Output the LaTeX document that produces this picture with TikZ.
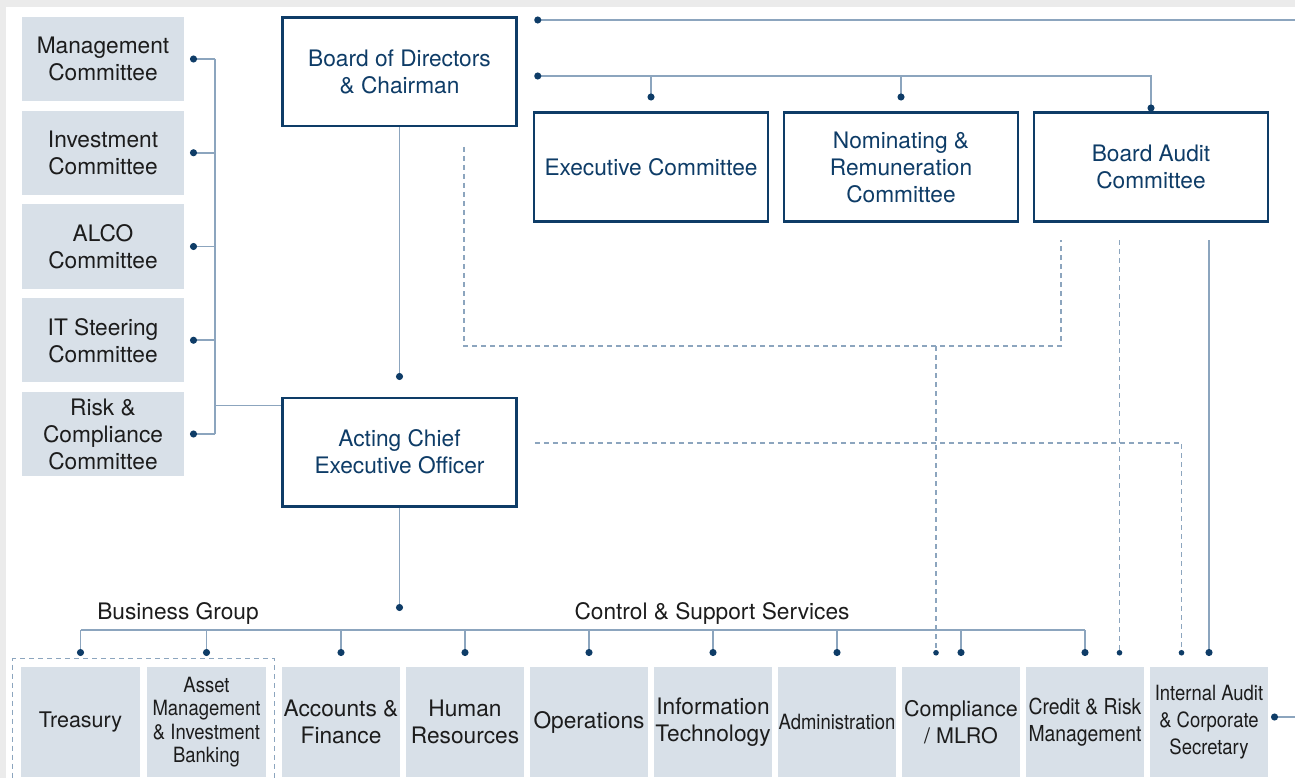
\documentclass[tikz,border=0pt]{standalone}
\usepackage{fontspec}
\setmainfont{TeX Gyre Heros}
\newfontfamily\narrowsf[FakeStretch=0.88]{TeX Gyre Heros}
\usetikzlibrary{arrows.meta,positioning,fit}

\definecolor{navy}{HTML}{0E3C67}
\definecolor{wireblue}{HTML}{8CA5BE}
\definecolor{panel}{HTML}{D8E0E8}
\definecolor{pagegray}{HTML}{EBEBEB}
\definecolor{ink}{HTML}{1C1C1C}

\newcommand{\bigtxt}{\fontsize{22.7}{27}\selectfont}
\newcommand{\midtxt}{\fontsize{21.5}{27}\selectfont}
\newcommand{\slimtxt}{\narrowsf\fontsize{21}{27}\selectfont}

\tikzset{
  knob/.tip={Circle[length=7pt,color=navy]},
  smallknob/.tip={Circle[length=5.5pt,color=navy]},
  boardbox/.style={draw=navy, line width=2.5pt, fill=white, text=navy, align=center,
    minimum width=234pt, minimum height=108.5pt, inner sep=0pt, font=\bigtxt},
  cmte/.style={fill=panel, text=ink, align=center, minimum width=162pt,
    minimum height=84pt, inner sep=0pt, outer sep=0pt, font=\bigtxt},
  unit/.style={fill=panel, text=ink, align=center, minimum width=118pt,
    minimum height=110pt, inner sep=0pt, outer sep=0pt, font=\bigtxt},
  wire/.style={draw=wireblue, line width=1.6pt},
  link/.style={wire, -knob, shorten >=11pt},
  dashwire/.style={draw=wireblue, line width=1.3pt, dash pattern=on 5pt off 4pt},
  dashlink/.style={dashwire, -smallknob, shorten >=11.5pt},
}

\begin{document}
\begin{tikzpicture}[x=1pt,y=-1pt]
  % page and panel
  \useasboundingbox (0,0) rectangle (1295,778);
  \fill[pagegray] (0,0) rectangle (1295,778);
  \fill[white] (6,7) rectangle (1295,778);

  % management committees on the left
  \node[cmte] (mgmt) at (103,59) {Management\\Committee};
  \node[cmte, below=9.75pt of mgmt] (invest) {Investment\\Committee};
  \node[cmte, below=9.75pt of invest] (alco) {ALCO\\Committee};
  \node[cmte, below=9.75pt of alco] (itsc) {IT Steering\\Committee};
  \node[cmte, below=9.75pt of itsc] (risk) {Risk \&\\Compliance\\Committee};

  % board, CEO and board committees
  \node[boardbox] (board) at (399.5,72) {Board of Directors\\\& Chairman};
  \node[boardbox] (ceo) at (399.5,452) {Acting Chief\\Executive Officer};
  \node[boardbox] (exec) at (651,167) {Executive Committee};
  \node[boardbox, right=13.5pt of exec] (nomrem) {Nominating \&\\Remuneration\\Committee};
  \node[boardbox, right=13.5pt of nomrem] (bac) {Board Audit\\Committee};

  % departments along the bottom
  \node[unit, minimum width=119pt, font=\midtxt] (treasury) at (80.5,722) {Treasury};
  \node[unit, minimum width=119pt, right=7pt of treasury,
    font={\narrowsf\fontsize{21}{23.5}\selectfont}] (asset)
    {Asset\\Management\\\& Investment\\Banking};
  \node[unit] (accounts) at (341,722) {Accounts \&\\Finance};
  \node[unit, right=6pt of accounts] (hr) {Human\\Resources};
  \node[unit, right=6pt of hr] (ops) {Operations};
  \node[unit, right=6pt of ops] (it) {Information\\Technology};
  \node[unit, right=6pt of it, font=\slimtxt] (admin) {Administration};
  \node[unit, right=6pt of admin, font=\midtxt] (compliance) {Compliance\\/ MLRO};
  \node[unit, right=6pt of compliance, font={\narrowsf\fontsize{22}{27}\selectfont}] (credit)
    {Credit \& Risk\\Management};
  \node[unit, right=6pt of credit, font=\slimtxt] (ia) {Internal Audit\\\& Corporate\\Secretary};
  \node[dashwire, fit=(treasury)(asset), inner sep=8.5pt] (bizgroup) {};

  \node[text=ink, font=\bigtxt] (bizlbl) at (178,613) {Business Group};
  \node[text=ink, font=\bigtxt] (csslbl) at (712,613) {Control \& Support Services};

  % committee spine
  \coordinate (spine) at (215,0);
  \coordinate (ceotie) at ([yshift=-9pt]ceo.north west);
  \draw[wire] (spine |- mgmt.east) -- (spine |- risk.east);
  \foreach \c in {mgmt,invest,alco,itsc,risk}
    \draw[link, shorten >=6pt] (spine |- \c.east) -- (\c.east);
  \draw[wire] (spine |- ceotie) -- (ceotie);

  % board lines
  \coordinate (far) at (1295,20);
  \coordinate (rail) at (0,76);
  \draw[link, shorten >=16.5pt] (far) -- (board.east |- far);
  \draw[wire, knob-knob, shorten <=16.5pt] (board.east |- rail) -| (bac.north);
  \foreach \e in {exec,nomrem}
    \draw[link] (\e.north |- rail) -- (\e.north);
  \draw[link, shorten >=16.5pt] (board) -- (ceo);

  % CEO down to the departments
  \coordinate (ceodrop) at (399.5,611);
  \coordinate (bus) at (0,630);
  \draw[link, shorten >=0pt] (ceo) -- (ceodrop);
  \draw[wire] (treasury.north |- bus) -- (credit.north |- bus);
  \foreach \u in {treasury,asset,accounts,hr,ops,it,admin,compliance,credit}
    \draw[link] (\u.north |- bus) -- (\u.north);

  % reporting lines from the board and the audit committee
  \coordinate (bdfoot) at (464,147);
  \coordinate (acfoot) at (1061,240);
  \coordinate (loop) at (0,346);
  \coordinate (cmplin) at ([xshift=-25pt]compliance.north);
  \coordinate (credin) at ([xshift=34.5pt]credit.north);
  \coordinate (iain) at ([xshift=-27.5pt]ia.north);
  \coordinate (ceotap) at ([xshift=17pt,yshift=9pt]ceo.east);
  \draw[dashwire] (bdfoot) |- (acfoot |- loop) -- (acfoot);
  \draw[dashlink] (cmplin |- loop) -- (cmplin);
  \draw[dashlink] (credin |- acfoot) -- (credin);
  \draw[link] (ia.north |- acfoot) -- (ia.north);
  \draw[dashlink] (ceotap) -| (iain);

  % link leaving the audit box to the right
  \coordinate (eastout) at (1295,717);
  \draw[link, shorten >=3pt] (eastout) -- (eastout -| ia.east);
\end{tikzpicture}
\end{document}
